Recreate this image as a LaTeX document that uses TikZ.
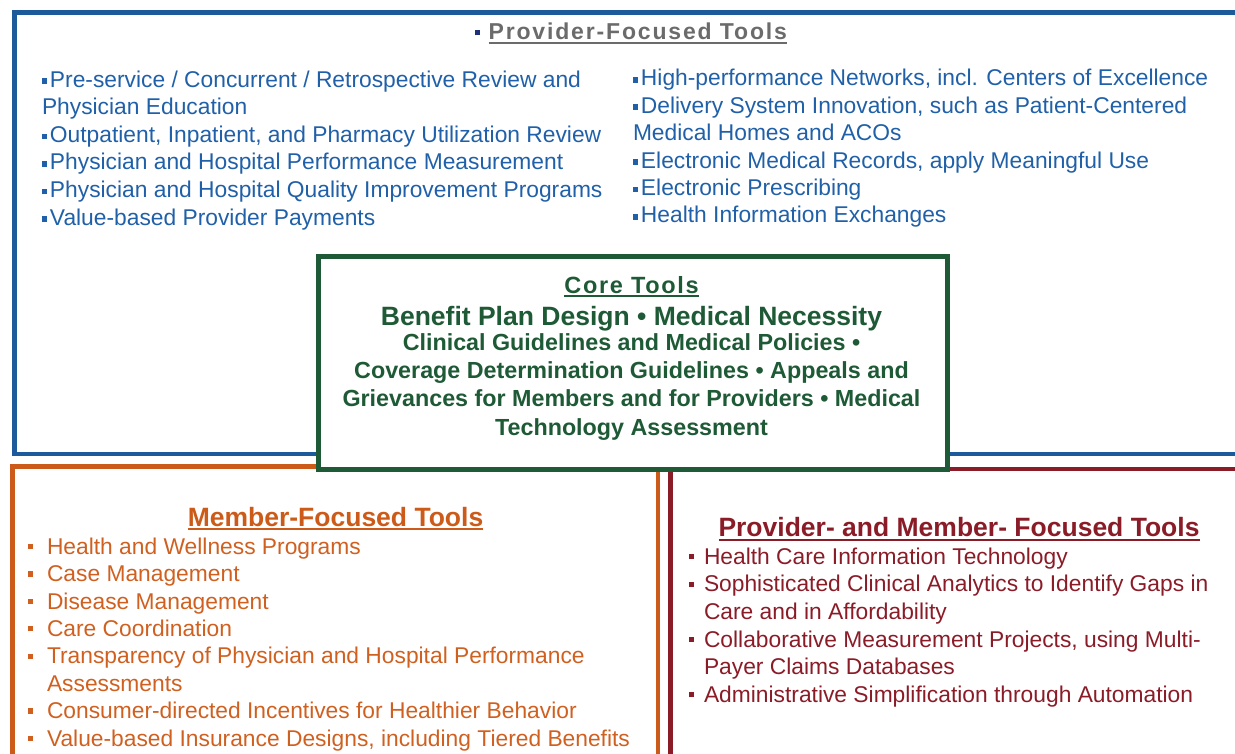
\documentclass[tikz,border=0pt]{standalone}
\usepackage{fontspec}
\setmainfont{Liberation Sans}
\newfontfamily\trackA[LetterSpace=8]{Liberation Sans}
\newfontfamily\trackB[LetterSpace=7]{Liberation Sans}
\definecolor{bline}{HTML}{1D5A9B}
\definecolor{btext}{HTML}{2060A8}
\definecolor{navyb}{HTML}{1F2F7A}
\definecolor{gtitle}{HTML}{6B6B6B}
\definecolor{gline}{HTML}{1F5A36}
\definecolor{oline}{HTML}{CC5A18}
\definecolor{otext}{HTML}{D06020}
\definecolor{rline}{HTML}{8A1C28}
\newcommand\bb{\rule[0.14em]{0.22em}{0.25em}\hspace{0.13em}}
\newcommand\obul{\makebox[19pt][l]{\rule[0.22em]{0.21em}{0.23em}}}
\newcommand\rbul{\makebox[15pt][l]{\rule[0.22em]{0.21em}{0.23em}}}
\newcommand\myul[1]{\setbox0=\hbox{#1}\rlap{\rule[-4pt]{\wd0}{1.8pt}}\box0}
\begin{document}
\begin{tikzpicture}[x=1pt,y=-1pt,
  every node/.style={inner sep=0pt,outer sep=0pt},
  frame/.style={line width=4.6pt,line join=miter},
  blist/.style={anchor=base west,text=btext,font=\fontsize{22.8}{27.6}\selectfont},
  olist/.style={anchor=base west,text=otext,font=\fontsize{22.8}{27.6}\selectfont},
  rlist/.style={anchor=base west,text=rline,font=\fontsize{22.8}{27.6}\selectfont},
  gline1/.style={anchor=base,text=gline,font=\fontsize{26.5}{30}\selectfont\bfseries},
  glines/.style={anchor=base,text=gline,font=\fontsize{23.3}{28}\selectfont\bfseries},
  corebox/.style={draw=gline,fill=white,line width=5pt,minimum width=628.5pt,minimum height=212.5pt}]
\useasboundingbox (0,0) rectangle (1235,754);
% frames
\draw[frame,draw=bline] (1260,12.5) -- (14.5,12.5) -- (14.5,454) -- (1260,454);
\draw[frame,draw=oline] (12.5,780) -- (12.5,466.5) -- (658,466.5) -- (658,780);
\draw[frame,draw=rline] (670.5,780) -- (670.5,469) -- (1260,469);
% provider-focused title
\node[anchor=base west,font=\fontsize{23}{27}\trackA\bfseries,text=gtitle] (ptitle) at (475,40)
  {\textcolor{navyb}{\rule[0.2em]{0.2em}{0.22em}}\hspace{9pt}\myul{Provider-Focused Tools}};
% left blue list
\foreach \t [count=\i] in {%
  {\bb Pre-service / Concurrent / Retrospective Review and},
  {Physician Education},
  {\bb Outpatient, Inpatient, and Pharmacy Utilization Review},
  {\bb Physician and Hospital Performance Measurement},
  {\bb Physician and Hospital Quality Improvement Programs},
  {\bb Value-based Provider Payments}}
  \node[blist] (bl\i) at (42,{87.3+27.55*(\i-1)}) {\t};
% right blue list
\foreach \t [count=\i] in {%
  {\bb High-performance Networks, incl. Centers of Excellence},
  {\bb Delivery System Innovation, such as Patient-Centered},
  {Medical Homes and ACOs},
  {\bb Electronic Medical Records, apply Meaningful Use},
  {\bb Electronic Prescribing},
  {\bb Health Information Exchanges}}
  \node[blist] (br\i) at (633,{86+27.35*(\i-1)}) {\t};
% core box
\node[corebox] (core) at (632.75,363.25) {};
\node[anchor=base,text=gline,font=\fontsize{23.5}{28}\trackB\bfseries] (ctitle) at (631.5,293.3) {\myul{Core Tools}};
\node[gline1] (c1) at (631.5,325) {Benefit Plan Design \textbullet{} Medical Necessity};
\node[glines] (c2) at (631.5,350.5) {Clinical Guidelines and Medical Policies \textbullet};
\node[glines] (c3) at (631.5,378.5) {Coverage Determination Guidelines \textbullet{} Appeals and};
\node[glines] (c4) at (631.5,406.7) {Grievances for Members and for Providers \textbullet{} Medical};
\node[glines] (c5) at (631.5,435) {Technology Assessment};
% member-focused
\node[anchor=base,text=oline,font=\fontsize{26.5}{30}\selectfont\bfseries] (mtitle) at (335.5,526) {\myul{Member-Focused Tools}};
\foreach \t [count=\i] in {%
  {\obul Health and Wellness Programs},
  {\obul Case Management},
  {\obul Disease Management},
  {\obul Care Coordination},
  {\obul Transparency of Physician and Hospital Performance},
  {\hspace*{19pt}Assessments},
  {\obul Consumer-directed Incentives for Healthier Behavior},
  {\obul Value-based Insurance Designs, including Tiered Benefits}}
  \node[olist] (ol\i) at (28,{554.3+27.4*(\i-1)}) {\t};
% provider- and member-focused
\node[anchor=base,text=rline,font=\fontsize{26.5}{30}\selectfont\bfseries] (rtitle) at (959,536.5) {\myul{Provider- and Member- Focused Tools}};
\foreach \t [count=\i] in {%
  {\rbul Health Care Information Technology},
  {\rbul Sophisticated Clinical Analytics to Identify Gaps in},
  {\hspace*{15pt}Care and in Affordability},
  {\rbul Collaborative Measurement Projects, using Multi-},
  {\hspace*{15pt}Payer Claims Databases},
  {\rbul Administrative Simplification through Automation}}
  \node[rlist] (rl\i) at (689,{564.3+27.6*(\i-1)}) {\t};
\end{tikzpicture}
\end{document}
